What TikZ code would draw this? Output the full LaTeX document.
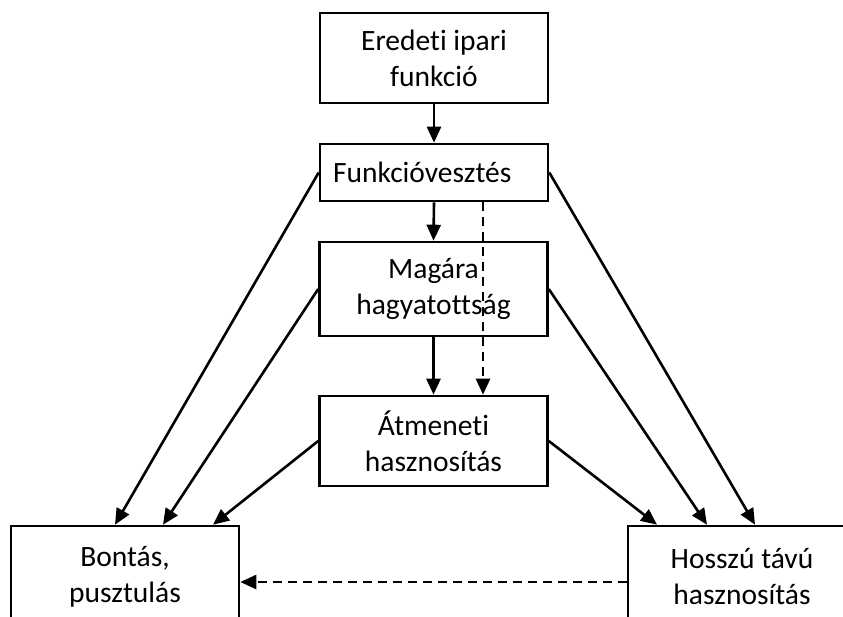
\documentclass[tikz,border=0pt]{standalone}
\usepackage{fontspec}
\setmainfont{Carlito}[Ligatures=NoCommon]
\usetikzlibrary{arrows.meta}
\tikzset{
  box/.style={draw=black, line width=2.6pt, fill=white, rectangle, align=center,
    minimum width=228pt, inner sep=0pt, font=\fontsize{29.5}{36}\selectfont},
  conn/.style={line width=2.6pt, -{Triangle[length=16pt,width=14pt]}},
  dconn/.style={conn, dash pattern=on 9pt off 6pt}
}
\begin{document}
\begin{tikzpicture}[x=1pt,y=-1pt]
\fill[white] (0,0) rectangle (843,616);
\useasboundingbox (0,0) rectangle (843,616);
\clip (0,0) rectangle (843,616);
\node[box, minimum height=90pt] (top) at (434,58) {Eredeti ipari\\funkció};
\node[box, minimum height=57pt, text width=202pt, align=left] (funk) at (434,172.5) {Funkcióvesztés};
\node[box, minimum height=94pt] (mag) at (433.5,289) {Magára\\hagyatottság};
\node[box, minimum height=90pt] (atm) at (433.5,441) {Átmeneti\\hasznosítás};
\node[box, minimum height=102pt] (bon) at (125,577) {Bontás,\\pusztulás};
\node[box, minimum height=102pt] (hos) at (742,577) {Hosszú távú\\hasznosítás};
\draw[conn] (top.south) -- (funk.north);
\draw[conn] (funk.south) -- (mag.north);
\draw[conn] (mag.south) -- (atm.north);
\draw[dconn] ([xshift=49pt]funk.south) -- ([xshift=49.5pt]atm.north);
\draw[conn] (funk.west) -- ([xshift=-10pt]bon.north);
\draw[conn] (mag.west) -- ([xshift=38pt]bon.north);
\draw[conn] (atm.west) -- ([xshift=88pt]bon.north);
\draw[conn] (funk.east) -- ([xshift=13pt]hos.north);
\draw[conn] (mag.east) -- ([xshift=-35pt]hos.north);
\draw[conn] (atm.east) -- ([xshift=-85pt]hos.north);
\draw[dconn] ([yshift=-5pt]hos.west) -- ([yshift=-5pt]bon.east);
\end{tikzpicture}
\end{document}
